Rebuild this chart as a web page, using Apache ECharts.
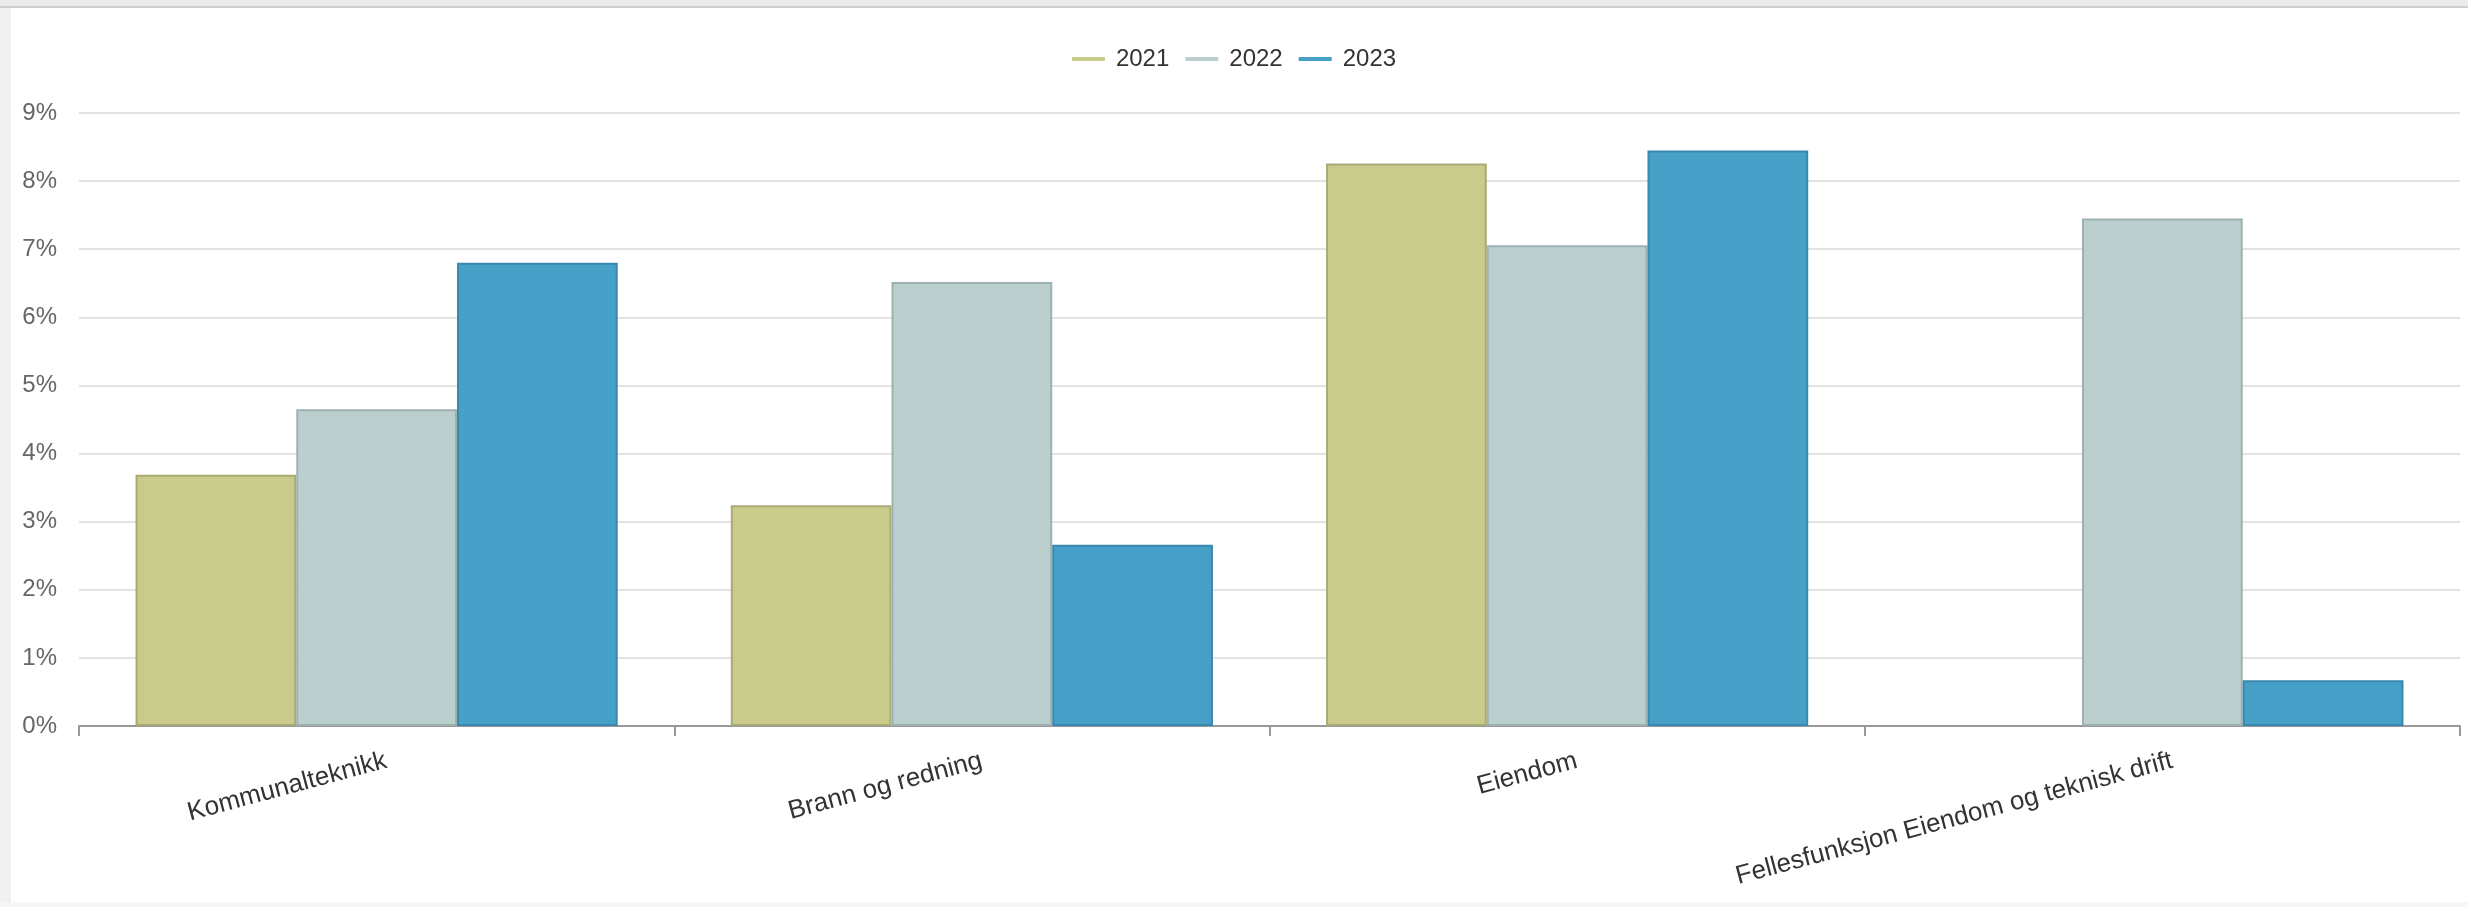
<!DOCTYPE html>
<html>
<head>
<meta charset="utf-8">
<script src="https://cdn.jsdelivr.net/npm/echarts@6/dist/echarts.min.js"></script>
<style>
  html, body { margin: 0; padding: 0; background: #ffffff; }
  #wrap { position: relative; width: 2468px; height: 907px; overflow: hidden; background: #fff; }
  #topbar { position: absolute; left: 0; top: 0; width: 2468px; height: 6px; background: #ebebeb; }
  #topline { position: absolute; left: 0; top: 6px; width: 2468px; height: 2px; background: #cfcfcf; }
  #leftbar { position: absolute; left: 0; top: 8px; width: 11px; height: 899px; background: #f0f0f0; }
  #bottombar { position: absolute; left: 0; top: 902px; width: 2468px; height: 5px; background: #f6f6f6; }
  #chart { position: absolute; left: 0; top: 0; width: 2468px; height: 907px; }
</style>
</head>
<body>
<div id="wrap">
  <div id="topbar"></div>
  <div id="topline"></div>
  <div id="leftbar"></div>
  <div id="bottombar"></div>
  <div id="chart"></div>
</div>
<script>
const categories = ["Kommunalteknikk", "Brann og redning", "Eiendom", "Fellesfunksjon Eiendom og teknisk drift"];
const seriesNames = ["2021", "2022", "2023"];
const values2021 = [3.69, 3.24, 8.26, null];
const values2022 = [4.65, 6.52, 7.06, 7.45];
const values2023 = [6.80, 2.66, 8.45, 0.67];
const yTicks = [0, 1, 2, 3, 4, 5, 6, 7, 8, 9];

const fills = ["#c9cb8b", "#bbcfcf", "#47a0c8"];
const borders = ["#a9aa74", "#9db1b1", "#3a88ae"];
const allValues = [values2021, values2022, values2023];

const chart = echarts.init(document.getElementById('chart'), null, { renderer: 'canvas' });
const fontFam = '"Liberation Sans", Arial, sans-serif';

chart.setOption({
  animation: false,
  textStyle: { fontFamily: fontFam },
  legend: {
    top: 42,
    left: 'center',
    icon: 'rect',
    itemWidth: 33,
    itemHeight: 4,
    itemGap: 16,
    textStyle: { fontSize: 24, color: '#333333', fontFamily: fontFam, padding: [0, 0, 0, 6] },
    data: seriesNames.map((n, i) => ({ name: n, itemStyle: { color: fills[i], borderWidth: 0 } }))
  },
  grid: { left: 79, right: 8, top: 113, bottom: 181, containLabel: false },
  xAxis: {
    type: 'category',
    data: categories,
    axisLine: { show: true, lineStyle: { color: '#999999', width: 2 } },
    axisTick: { show: true, length: 10, lineStyle: { color: '#999999', width: 2 } },
    axisLabel: {
      rotate: 15,
      fontSize: 26,
      color: '#333333',
      margin: 37,
      interval: 0,
      padding: [0, -10, 0, 0],
      fontFamily: fontFam
    }
  },
  yAxis: {
    type: 'value',
    min: yTicks[0],
    max: yTicks[yTicks.length - 1],
    interval: 1,
    axisLine: { show: false },
    axisTick: { show: false },
    splitLine: { lineStyle: { color: '#e3e3e3', width: 2 } },
    axisLabel: {
      formatter: '{value}%',
      fontSize: 24,
      color: '#666666',
      margin: 22,
      fontFamily: fontFam
    }
  },
  series: seriesNames.map((n, i) => ({
    name: n,
    type: 'bar',
    data: allValues[i],
    barGap: '0%',
    barCategoryGap: '19%',
    itemStyle: { color: fills[i], borderColor: borders[i], borderWidth: 2 }
  }))
});
</script>
</body>
</html>
